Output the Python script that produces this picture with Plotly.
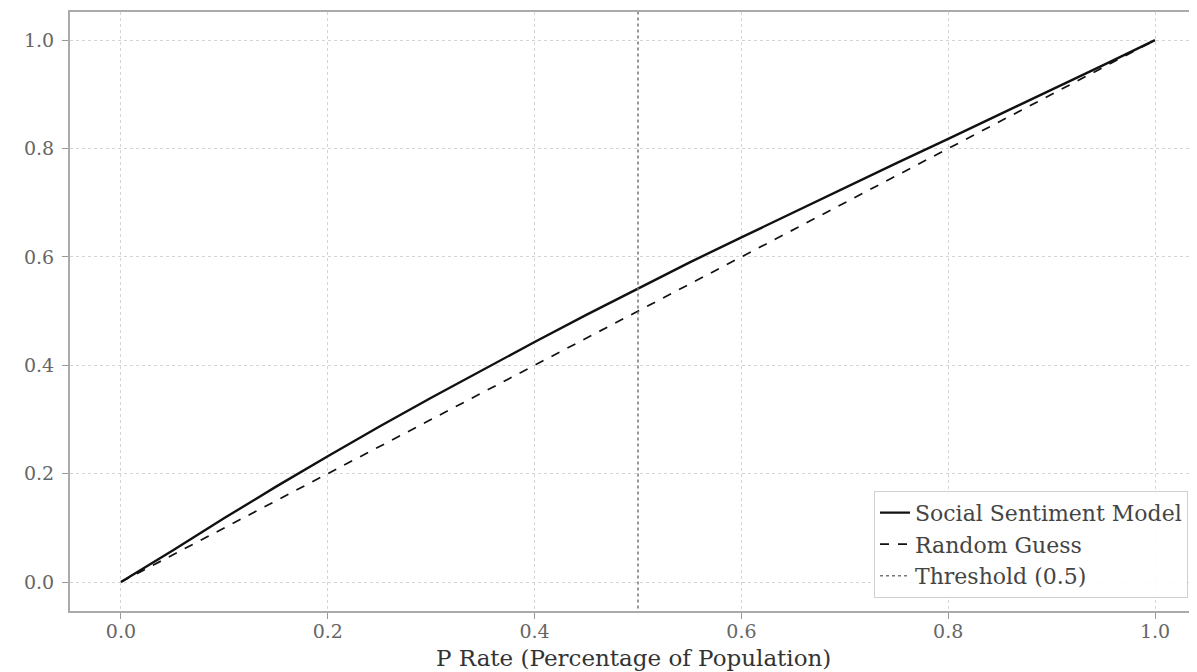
import plotly.graph_objects as go

x_vals = [0.0, 0.05, 0.1, 0.15, 0.2, 0.25, 0.3, 0.35, 0.4, 0.45, 0.5,
          0.55, 0.6, 0.65, 0.7, 0.75, 0.8, 0.85, 0.9, 0.95, 1.0]
model_vals = [0.0, 0.058, 0.118, 0.176, 0.232, 0.287, 0.340, 0.392, 0.443, 0.493, 0.542,
              0.590, 0.636, 0.682, 0.728, 0.773, 0.818, 0.863, 0.909, 0.954, 1.0]
random_x = [0.0, 1.0]
random_y = [0.0, 1.0]
threshold = 0.5
tick_vals = [0.0, 0.2, 0.4, 0.6, 0.8, 1.0]
tick_text = ["0.0", "0.2", "0.4", "0.6", "0.8", "1.0"]
x_title = "P Rate (Percentage of Population)"

FONT = "DejaVu Serif"

fig = go.Figure()
fig.add_trace(go.Scatter(x=x_vals, y=model_vals, mode="lines", name="Social Sentiment Model",
                         line=dict(color="#111111", width=2.4)))
fig.add_trace(go.Scatter(x=random_x, y=random_y, mode="lines", name="Random Guess",
                         line=dict(color="#111111", width=1.7, dash="dash")))
fig.add_trace(go.Scatter(x=[threshold, threshold], y=[-0.06, 1.06], mode="lines",
                         name="Threshold (0.5)",
                         line=dict(color="#777777", width=1.5, dash="dot")))

axis_common = dict(
    showline=True, linecolor="#aaaaaa", linewidth=2, mirror=True,
    ticks="outside", ticklen=6, tickcolor="#999999",
    showgrid=True, gridcolor="#d4d4d4", griddash="dot", gridwidth=1,
    zeroline=False, automargin=False,
    tickvals=tick_vals, ticktext=tick_text,
    tickfont=dict(family=FONT, size=19, color="#666666"),
)

fig.update_layout(
    width=1189, height=664,
    margin=dict(l=62, r=0, t=4, b=61),
    paper_bgcolor="white", plot_bgcolor="white",
    font=dict(family=FONT, color="#333333"),
    xaxis=dict(range=[-0.0493, 1.0406], ticklabelstandoff=-4, **axis_common),
    yaxis=dict(range=[-0.0535, 1.052], ticklabelstandoff=4, **axis_common),
    legend=dict(x=0.992, y=0.022, xanchor="right", yanchor="bottom",
                bgcolor="rgba(255,255,255,0.9)", bordercolor="#d0d0d0", borderwidth=1,
                font=dict(family=FONT, size=22, color="#444444"),
                tracegroupgap=0),
    showlegend=True,
    annotations=[dict(text=x_title, xref="paper", yref="paper", x=0.5, y=0,
                      xanchor="center", yanchor="middle", yshift=-47, showarrow=False,
                      font=dict(family=FONT, size=23, color="#333333"))],
)

fig.write_html("out.html")
